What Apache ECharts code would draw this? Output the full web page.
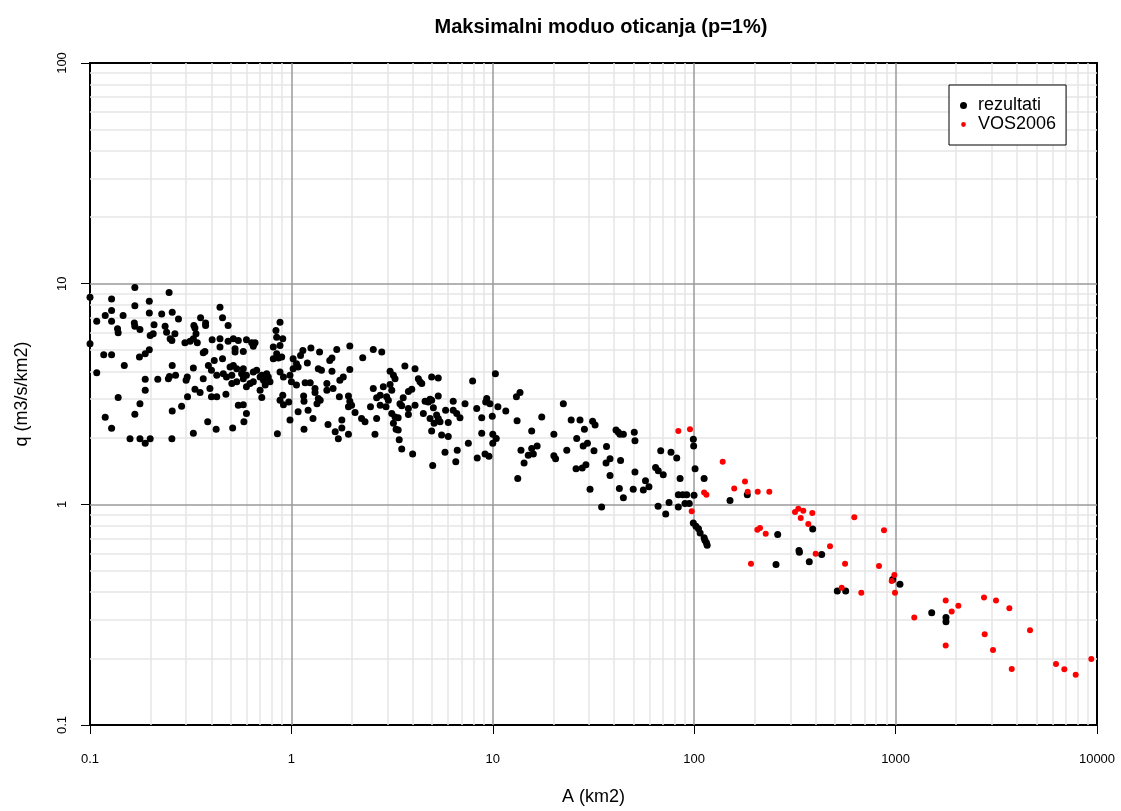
<!DOCTYPE html>
<html>
<head>
<meta charset="utf-8">
<script src="https://cdn.jsdelivr.net/npm/echarts@6/dist/echarts.min.js"></script>
<style>
html,body{margin:0;padding:0;background:#fff;}
#chart{width:1121px;height:811px;}
</style>
</head>
<body>
<div id="chart"></div>
<script>
// ---- DATA ----
const chartTitle = 'Maksimalni moduo oticanja (p=1%)';
const xName = 'A (km2)';
const yName = 'q (m3/s/km2)';
const seriesNames = ['rezultati', 'VOS2006'];
const xTickLabels = ['0.1', '1', '10', '100', '1000', '10000'];
const yTickLabels = ['0.1', '1', '10', '100'];

// rezultati: [A (km2), q (m3/s/km2)]
const rezultati = [
[0.167,9.62],[0.247,9.13],[0.1,8.67],[0.128,8.52],[0.197,8.32],[0.167,7.95],[0.442,7.82],[0.128,7.55],[0.197,7.37],[0.227,7.29],
[0.256,7.42],[0.119,7.17],[0.146,7.17],[0.354,7.0],[0.455,7.0],[0.275,6.92],[0.108,6.76],[0.128,6.76],[0.878,6.69],[0.166,6.64],
[0.167,6.42],[0.208,6.51],[0.236,6.42],[0.328,6.46],[0.375,6.64],[0.375,6.46],[0.485,6.46],[0.137,6.24],[0.177,6.2],[0.332,6.29],
[0.138,5.99],[0.838,6.13],[0.24,6.03],[0.199,5.82],[0.206,5.93],[0.264,5.93],[0.336,5.93],[0.845,5.72],[0.906,5.63],[0.25,5.63],
[0.326,5.63],[0.404,5.57],[0.442,5.63],[0.485,5.49],[0.515,5.63],[0.545,5.53],[0.598,5.57],[0.255,5.53],[0.296,5.4],[0.314,5.49],
[0.341,5.4],[0.635,5.4],[0.66,5.4],[0.1,5.34],[0.442,5.16],[0.525,5.07],[0.647,5.21],[0.813,5.16],[0.878,5.25],[0.197,5.02],
[0.525,4.9],[0.577,4.93],[0.372,4.93],[0.365,4.86],[0.117,4.76],[0.128,4.76],[0.845,4.81],[0.188,4.81],[0.176,4.65],[0.813,4.57],
[0.862,4.6],[0.895,4.65],[1.02,4.57],[0.414,4.49],[0.455,4.57],[1.06,4.34],[1.02,4.12],[1.08,4.19],[0.387,4.26],[0.496,4.19],
[0.515,4.26],[0.535,4.12],[0.577,4.12],[0.148,4.26],[0.256,4.26],[0.326,4.15],[0.401,4.05],[0.426,3.85],[0.459,3.91],[0.566,3.91],
[0.506,3.85],[0.598,3.85],[0.647,3.98],[0.672,4.05],[0.713,3.85],[0.754,3.91],[0.878,3.98],[0.913,3.78],[0.984,3.85],[0.108,3.95],
[0.266,3.85],[0.248,3.8],[0.304,3.78],[0.476,3.78],[0.699,3.78],[0.741,3.85],[0.188,3.69],[0.217,3.69],[0.245,3.71],[0.3,3.65],
[0.365,3.71],[0.577,3.71],[0.768,3.78],[0.727,3.65],[0.647,3.59],[1.0,3.59],[0.535,3.59],[0.783,3.59],[0.506,3.53],[0.623,3.53],
[1.06,3.47],[0.598,3.41],[0.741,3.47],[0.332,3.32],[0.352,3.21],[0.394,3.35],[0.188,3.29],[0.699,3.29],[0.138,3.05],[0.305,3.07],
[0.401,3.07],[0.426,3.07],[0.473,3.15],[0.713,3.05],[0.906,3.12],[0.177,2.86],[0.285,2.78],[0.878,2.96],[0.97,2.91],[0.913,2.83],
[0.545,2.81],[0.577,2.83],[0.256,2.65],[0.167,2.56],[0.598,2.58],[1.08,2.63],[0.119,2.48],[0.384,2.37],[0.581,2.37],[0.984,2.41],
[0.128,2.21],[0.511,2.22],[0.423,2.19],[0.326,2.1],[0.852,2.09],[0.158,1.98],[0.177,1.98],[0.188,1.89],[0.199,1.98],[0.255,1.98],
[1.25,5.11],[1.38,4.9],[1.14,4.98],[1.68,5.03],[1.95,5.22],[2.55,5.03],[2.81,4.9],[1.11,4.72],[1.59,4.6],[1.55,4.49],
[2.26,4.62],[1.2,4.37],[1.36,4.12],[1.41,4.05],[1.59,4.01],[1.95,4.08],[3.09,4.01],[3.66,4.24],[4.11,4.12],[3.21,3.85],
[3.27,3.71],[1.81,3.78],[1.74,3.65],[4.27,3.71],[4.35,3.59],[4.97,3.78],[5.36,3.74],[7.94,3.62],[1.17,3.56],[1.24,3.56],
[1.31,3.35],[1.5,3.53],[1.5,3.29],[1.61,3.35],[2.55,3.35],[2.86,3.41],[3.09,3.49],[3.15,3.29],[3.81,3.25],[3.96,3.32],
[4.44,3.53],[1.31,3.21],[1.15,3.1],[1.155,2.93],[1.36,3.02],[1.39,2.96],[1.73,3.07],[1.92,3.1],[2.65,3.04],[2.76,3.12],
[2.97,3.07],[3.03,2.96],[3.59,3.04],[5.36,3.1],[4.61,2.93],[4.88,2.99],[4.97,2.96],[6.36,2.93],[7.28,2.86],[9.33,3.02],
[9.22,2.91],[9.68,2.86],[1.34,2.86],[1.95,2.93],[1.99,2.81],[1.92,2.77],[2.47,2.77],[2.76,2.81],[2.95,2.77],[3.46,2.86],
[3.53,2.8],[3.81,2.72],[3.81,2.55],[4.11,2.81],[4.78,2.91],[5.07,2.74],[5.83,2.67],[6.36,2.67],[6.62,2.58],[8.32,2.72],
[10.6,2.77],[1.21,2.67],[1.28,2.45],[1.52,2.3],[1.78,2.41],[2.07,2.61],[2.23,2.45],[2.32,2.37],[2.65,2.45],[3.15,2.58],
[3.27,2.49],[3.21,2.33],[3.39,2.47],[4.52,2.58],[4.88,2.45],[5.26,2.54],[5.36,2.45],[5.11,2.33],[5.47,2.37],[6.01,2.35],
[6.87,2.47],[8.81,2.47],[9.94,2.51],[1.155,2.19],[1.65,2.13],[1.78,2.22],[1.92,2.08],[2.6,2.08],[3.39,2.17],[3.31,2.19],
[4.97,2.15],[5.57,2.06],[6.01,2.03],[8.81,2.1],[10.0,2.08],[1.71,1.98],[3.43,1.96],[3.53,1.78],[7.56,1.89],[5.79,1.72],
[6.66,1.76],[10.0,1.89],[10.4,1.99],[4.0,1.69],[5.03,1.5],[6.55,1.56],[8.37,1.62],[9.15,1.69],[9.57,1.65],[10.3,3.91],
[11.6,2.65],[13.1,3.07],[13.65,3.21],[13.2,2.39],[13.3,1.31],[13.8,1.76],[14.3,1.54],[15.0,1.67],[15.6,1.79],[15.9,1.69],
[15.6,2.15],[16.6,1.84],[17.5,2.49],[20.1,2.08],[20.1,1.66],[20.5,1.61],[22.4,2.86],[23.3,1.76],[24.5,2.41],[26.1,1.99],
[27.1,2.41],[25.9,1.45],[27.8,1.46],[28.1,1.84],[28.5,2.19],[29.0,1.51],[29.5,1.89],[31.3,2.38],[32.2,2.29],[31.8,1.75],
[30.4,1.17],[34.7,0.972],[36.5,1.54],[36.7,1.83],[38.2,1.61],[38.2,1.35],[40.9,2.17],[42.0,2.12],[42.8,2.08],[44.5,2.08],
[43.1,1.58],[42.5,1.18],[44.5,1.07],[49.8,1.17],[50.4,2.12],[50.8,1.94],[50.8,1.4],[55.9,1.16],[57.3,1.28],[59.6,1.2],
[64.3,1.47],[66.3,1.42],[70.2,1.36],[66.2,0.979],[68.2,1.75],[72.2,0.904],[75.0,1.02],[76.7,1.72],[81.9,1.62],[85.1,1.31],
[83.4,1.105],[87.7,1.105],[91.8,1.105],[90.0,1.01],[94.5,1.01],[83.4,0.972],[99.0,1.97],[99.4,1.84],[101,1.45],[99.8,1.098],
[99.0,0.823],[102,0.796],[105,0.776],[107,0.742],[112,1.31],[112,0.705],[113,0.688],[115,0.669],[116,0.653],
[150.6,1.04],[183.5,1.105],[259.8,0.729],[254.8,0.534],[331.4,0.618],[332.9,0.607],[372.8,0.549],[387.6,0.774],[429.5,0.593],
[513.4,0.405],[565,0.405],[967,0.457],[1051,0.434],[1511,0.323],[1779,0.307],[1779,0.294]
];

// VOS2006: [A (km2), q (m3/s/km2)]
const vos2006 = [
[83.4,2.15],[95.3,2.19],[112,1.13],[115,1.105],[97.2,0.93],
[138.5,1.56],[158,1.18],[178.7,1.27],[184.3,1.14],[206.7,1.14],[236,1.14],[191.4,0.538],[205.8,0.768],[212.2,0.782],[226.5,0.735],
[316.6,0.923],[328.8,0.956],[338,0.867],[348,0.936],[385.8,0.914],[368.6,0.815],[401,0.597],[472.4,0.646],[561,0.538],[540,0.419],
[623.7,0.873],[675.5,0.398],[827,0.525],[875.7,0.763],
[986,0.478],[956,0.449],[993,0.398],[1238,0.307],[1773,0.367],[1899,0.327],[2049,0.347],[2748,0.378],[3152,0.367],[3671,0.338],
[1773,0.229],[2769,0.258],[3046,0.219],[4649,0.269],[3772,0.1795],[6258,0.189],[6882,0.179],[7839,0.169],[9370,0.199]
];

// ---- grid lines (log decades and 2..9 sub-steps) ----
const xDecades = [0.1, 1, 10, 100, 1000];
const yDecades = [0.1, 1, 10];
const minorCol = '#e6e6e6', majorCol = '#9a9a9a';
const minorLines = [], majorLines = [];
xDecades.forEach(function (d, i) {
  if (i > 0) majorLines.push({ xAxis: d, lineStyle: { color: majorCol, width: 1.5 } });
  for (let k = 2; k <= 9; k++) minorLines.push({ xAxis: d * k, lineStyle: { color: minorCol, width: 1.5 } });
});
yDecades.forEach(function (d, i) {
  if (i > 0) majorLines.push({ yAxis: d, lineStyle: { color: majorCol, width: 1.5 } });
  for (let k = 2; k <= 9; k++) minorLines.push({ yAxis: d * k, lineStyle: { color: minorCol, width: 1.5 } });
});
const gridLines = minorLines.concat(majorLines);

const FONT = "'Liberation Sans', Arial, sans-serif";
// smaller red legend dot: circle inside a larger (invisible) bounding box
const smallDotIcon = 'path://M0,0M10,10M1.6,5a3.4,3.4 0 1,0 6.8,0a3.4,3.4 0 1,0 -6.8,0z';

const chart = echarts.init(document.getElementById('chart'), null, { renderer: 'canvas' });
chart.setOption({
  animation: false,
  backgroundColor: '#ffffff',
  textStyle: { fontFamily: FONT },
  title: {
    text: chartTitle,
    left: 596,
    textAlign: 'center',
    top: 12,
    textStyle: { fontFamily: FONT, fontSize: 20, fontWeight: 'bold', color: '#000' }
  },
  legend: {
    data: [
      { name: seriesNames[0], icon: 'circle' },
      { name: seriesNames[1], icon: smallDotIcon }
    ],
    orient: 'vertical',
    left: 949,
    top: 85,
    padding: [11, 10, 11, 11],
    itemGap: 0,
    itemWidth: 7,
    itemHeight: 7,
    borderColor: '#000',
    borderWidth: 1,
    backgroundColor: '#fff',
    formatter: function (name) { return '{t|' + name + '}'; },
    textStyle: {
      fontFamily: FONT, fontSize: 18, lineHeight: 19, color: '#000',
      rich: { t: { fontFamily: FONT, fontSize: 18, lineHeight: 19, color: '#000', padding: [0, 0, 0, 6] } }
    }
  },
  grid: {
    left: 90, right: 24, top: 63, bottom: 83,
    show: true, borderColor: '#000', borderWidth: 2, backgroundColor: '#fff'
  },
  xAxis: {
    type: 'log', logBase: 10, min: 0.1, max: 10000,
    name: xName, nameLocation: 'middle', nameGap: 63,
    nameTextStyle: { fontFamily: FONT, fontSize: 18, color: '#000' },
    axisLine: { show: false },
    axisTick: { show: true, inside: false, length: 9, lineStyle: { color: '#000', width: 1 } },
    axisLabel: {
      fontFamily: FONT, fontSize: 13, color: '#000', margin: 28,
      formatter: function (v, i) { return xTickLabels[i] !== undefined ? xTickLabels[i] : ''; }
    },
    splitLine: { show: false }
  },
  yAxis: {
    type: 'log', logBase: 10, min: 0.1, max: 100,
    name: yName, nameLocation: 'middle', nameGap: 59, nameRotate: 90,
    nameTextStyle: { fontFamily: FONT, fontSize: 18, color: '#000' },
    axisLine: { show: false },
    axisTick: { show: true, inside: false, length: 9, lineStyle: { color: '#000', width: 1 } },
    axisLabel: {
      fontFamily: FONT, fontSize: 13, color: '#000', margin: 21, rotate: 90,
      formatter: function (v, i) { return yTickLabels[i] !== undefined ? yTickLabels[i] : ''; }
    },
    splitLine: { show: false }
  },
  series: [
    {
      name: 'grid', type: 'scatter', data: [], z: 1, silent: true,
      markLine: {
        z: 1, zlevel: 0,
        silent: true, symbol: ['none', 'none'], animation: false,
        label: { show: false }, emphasis: { disabled: true },
        lineStyle: { type: 'solid' },
        data: gridLines
      }
    },
    {
      name: seriesNames[0], type: 'scatter', data: rezultati, z: 3,
      symbol: 'circle', symbolSize: 7,
      itemStyle: { color: '#000000', opacity: 1 }
    },
    {
      name: seriesNames[1], type: 'scatter', data: vos2006, z: 4,
      symbol: 'circle', symbolSize: 6,
      itemStyle: { color: '#ff0000', opacity: 1 }
    }
  ]
});
</script>
</body>
</html>
